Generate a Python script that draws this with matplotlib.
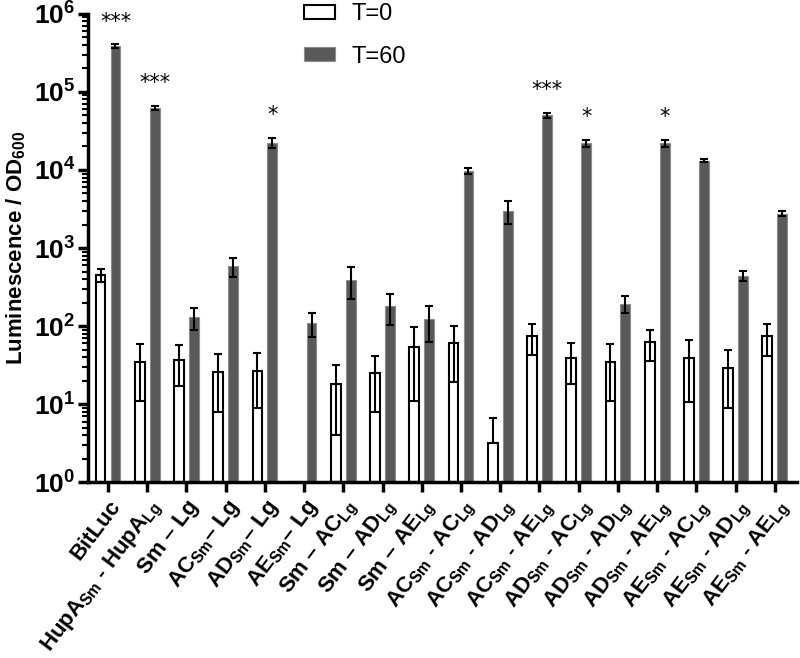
import numpy as np
import matplotlib
matplotlib.use('Agg')
import matplotlib.pyplot as plt
import matplotlib.ticker as mticker
import matplotlib.patches as mpatches

plt.rcParams['font.family'] = ['Liberation Sans', 'DejaVu Sans']
plt.rcParams['mathtext.fontset'] = 'custom'
plt.rcParams['mathtext.rm'] = 'Liberation Sans:bold'
plt.rcParams['mathtext.default'] = 'rm'

# data
labels = ['BitLuc',
          r'HupA$_{Sm}$ - HupA$_{Lg}$',
          'Sm \u2013 Lg',
          r'AC$_{Sm}$' + '\u2013 Lg',
          r'AD$_{Sm}$' + '\u2013 Lg',
          r'AE$_{Sm}$' + '\u2013 Lg',
          'Sm \u2013 ' + r'AC$_{Lg}$',
          'Sm \u2013 ' + r'AD$_{Lg}$',
          'Sm \u2013 ' + r'AE$_{Lg}$',
          r'AC$_{Sm}$ - AC$_{Lg}$',
          r'AC$_{Sm}$ - AD$_{Lg}$',
          r'AC$_{Sm}$ - AE$_{Lg}$',
          r'AD$_{Sm}$ - AC$_{Lg}$',
          r'AD$_{Sm}$ - AD$_{Lg}$',
          r'AD$_{Sm}$ - AE$_{Lg}$',
          r'AE$_{Sm}$ - AC$_{Lg}$',
          r'AE$_{Sm}$ - AD$_{Lg}$',
          r'AE$_{Sm}$ - AE$_{Lg}$']

t0_mean = [450, 35, 37, 26, 27, np.nan, 18, 25, 54, 60, 3.2, 75, 39, 35, 63, 38.6, 29, 74]
t0_sd = [85, 24, 20, 18, 18, np.nan, 14, 17, 43, 41, 3.5, 32, 21, 24, 27, 28, 20, 33]
t60_mean = [3.9e5, 6.2e4, 130, 585, 2.24e4, 110, 395, 180, 122, 9.7e3, 3.0e3, 5.0e4,
            2.2e4, 195, 2.2e4, 1.32e4, 440, 2.77e3]
t60_sd = [2.0e4, 4.0e3, 41, 165, 3.5e3, 38, 175, 77, 60, 800, 950, 4.0e3,
          2.5e3, 48, 2.5e3, 700, 65, 170]
stars = ['***', '***', '', '', '*', '', '', '', '', '', '', '***', '*', '', '*', '', '', '']

t0_mean = np.array(t0_mean, dtype=float)
t0_sd = np.array(t0_sd, dtype=float)
t60_mean = np.array(t60_mean, dtype=float)
t60_sd = np.array(t60_sd, dtype=float)

x = np.arange(len(labels))
w = 0.25
off = 0.19
gray = '#595959'

fig = plt.figure(figsize=(8, 6.58), dpi=100)
ax = fig.add_axes([0.11, 0.267, 0.886, 0.712])

ax.bar(x - off, np.nan_to_num(t0_mean, nan=0) - 1, w, bottom=1, color='white',
       edgecolor='black', linewidth=1.5, zorder=2)
ax.bar(x + off, t60_mean - 1, w, bottom=1, color=gray, edgecolor='#8c8c8c',
       linewidth=0.8, zorder=2)

# lower error cannot go below zero on a log axis
lo0 = np.where(t0_mean - t0_sd > 0, t0_sd, 0)
ax.errorbar(x - off, t0_mean, yerr=[lo0, t0_sd], fmt='none', ecolor='black',
            elinewidth=1.5, capsize=3, capthick=1.5, zorder=3)
ax.errorbar(x + off, t60_mean, yerr=t60_sd, fmt='none', ecolor='black',
            elinewidth=1.5, capsize=3, capthick=1.5, zorder=3)

for i, s in enumerate(stars):
    if s:
        ax.annotate(s, xy=(x[i] + off, t60_mean[i] + t60_sd[i]), xytext=(0, 9),
                    textcoords='offset points', ha='center', va='bottom',
                    fontsize=15, fontfamily='DejaVu Sans')

ax.set_yscale('log')
ax.set_ylim(1, 1e6)
ax.set_xlim(-0.51, 17.56)
ax.yaxis.set_major_locator(mticker.LogLocator(base=10, numticks=10))
ax.yaxis.set_major_formatter(mticker.FuncFormatter(
    lambda v, p: r'10$^{%d}$' % round(np.log10(v))))
ax.yaxis.set_minor_locator(mticker.LogLocator(base=10, subs=np.arange(2, 10), numticks=20))
ax.yaxis.set_minor_formatter(mticker.NullFormatter())

ax.set_xticks(x)
ax.set_xticklabels(labels, rotation=53, ha='right', va='top', rotation_mode='anchor',
                   fontsize=16, fontweight='bold')
ax.tick_params(axis='y', which='major', labelsize=19, length=7, width=2.5, pad=2)
ax.tick_params(axis='y', which='minor', length=4, width=1.5)
ax.tick_params(axis='x', which='major', length=7, width=2.5, pad=3)
for t in ax.get_yticklabels():
    t.set_fontweight('bold')

for side in ['top', 'right']:
    ax.spines[side].set_visible(False)
for side in ['left', 'bottom']:
    ax.spines[side].set_linewidth(2.5)

ax.set_ylabel(r'Luminescence / OD$_{600}$', fontsize=16, fontweight='bold', labelpad=4)

h0 = mpatches.Patch(facecolor='white', edgecolor='black', linewidth=1.5, label='T=0')
h1 = mpatches.Patch(facecolor=gray, edgecolor='#8c8c8c', linewidth=0.8, label='T=60')
fig.legend(handles=[h0, h1], loc='upper left', bbox_to_anchor=(0.354, 1.027),
           frameon=False, fontsize=17, handlelength=1.3, handleheight=0.55,
           labelspacing=0.85, handletextpad=0.7)

fig.savefig('out.png', dpi=100)
